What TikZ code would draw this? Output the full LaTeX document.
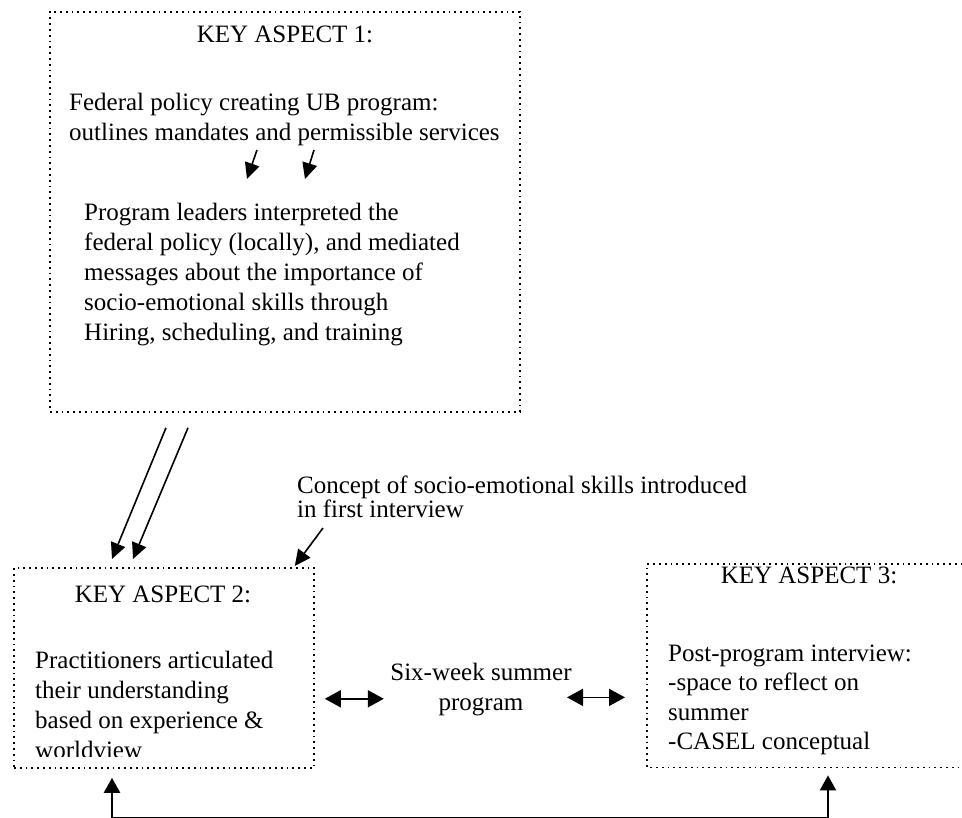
\documentclass[tikz,border=0pt]{standalone}
\usepackage{fontspec}
\setmainfont{Liberation Serif}
\usetikzlibrary{arrows.meta,calc}
\newcommand\tstrut{\rule{0pt}{21pt}}
\begin{document}
\begin{tikzpicture}[x=1pt,y=-1pt,
  dotline/.style={line width=1.8pt, dash pattern=on 1.8pt off 4.0pt},
  dotbox/.style={dotline, draw, inner sep=0, anchor=north west},
  nobox/.style={inner sep=0, anchor=north west},
  txt/.style={inner sep=0, anchor=north west, align=left, font=\fontsize{25}{30}\selectfont},
  ttl/.style={inner sep=0, anchor=base, font=\fontsize{25}{30}\selectfont},
  arr/.style={line width=1.6pt, -{Triangle[length=16pt,width=15pt]}},
  darr/.style={line width=1.8pt, {Triangle[length=16pt,width=17pt]}-{Triangle[length=16pt,width=17pt]}},
  barr/.style={line width=2.2pt, {Triangle[length=15pt,width=16pt]}-{Triangle[length=15pt,width=16pt]}}]
\useasboundingbox (0,0) rectangle (962,818);

% boxes
\node[dotbox, minimum width=470pt, minimum height=400pt] (box1) at (49,11) {};
\node[dotbox, minimum width=300pt, minimum height=200pt] (box2) at (13,567) {};
\node[nobox, minimum width=315pt, minimum height=203pt] (box3) at (647,564) {};
\draw[dotline] (box3.north east) -- (box3.north west) -- (box3.south west) -- (box3.south east);

% texts
\node[ttl] (t1) at (285,43) {KEY ASPECT 1:};
\node[txt] (fed) at (69,89) {\tstrut Federal policy creating UB program:\\outlines mandates and permissible services};
\node[txt] (lead) at (84,199) {\tstrut Program leaders interpreted the\\federal policy (locally), and mediated\\messages about the importance of\\socio-emotional skills through\\Hiring, scheduling, and training};

\node[ttl] (t2) at (163,602) {KEY ASPECT 2:};
\begin{scope}
\clip (13,567) rectangle (313,756);
\node[txt] (prac) at (35,647) {\tstrut Practitioners articulated\\their understanding\\based on experience \&\\worldview};
\end{scope}

\node[txt, font=\fontsize{25}{22}\selectfont] (concept) at (297,472) {\tstrut Concept of socio-emotional skills introduced\\in first interview};

\node[txt, anchor=north, align=center] (six) at (481,659) {\tstrut Six-week summer\\program};

\node[ttl] (t3) at (809,583) {KEY ASPECT 3:};
\node[txt, font=\fontsize{25}{29.5}\selectfont] (post) at (668,640) {\tstrut Post-program interview:\\-space to reflect on\\summer\\-CASEL conceptual};

% small arrows inside box 1
\draw[arr] ($(box1.north west)+(208,139)$) -- ($(box1.north west)+(198,168)$);
\draw[arr] ($(box1.north west)+(265,139)$) -- ($(box1.north west)+(256,168)$);

% long arrows from box 1 to box 2
\draw[arr] ($(box1.south west)+(117,15)$) -- ($(box2.north west)+(99,-8)$);
\draw[arr] ($(box1.south west)+(139,15)$) -- ($(box2.north west)+(120,-8)$);

% concept arrow
\draw[arr] ($(concept.north west)+(26,56)$) -- ($(box2.north east)+(-20,-1)$);

% double arrows
\draw[darr] ($(box2.south east)+(10,-70)$) -- ($(box2.south east)+(69,-70)$);
\draw[darr] ($(box3.south west)+(-80,-70)$) -- ($(box3.south west)+(-22,-70)$);

% bottom connector
\coordinate (b2) at ($(box2.south west)+(99,9)$);
\coordinate (b3) at ($(box3.south west)+(181,8)$);
\draw[barr] (b2) -- ++(0,40) -| (b3);
\end{tikzpicture}
\end{document}
